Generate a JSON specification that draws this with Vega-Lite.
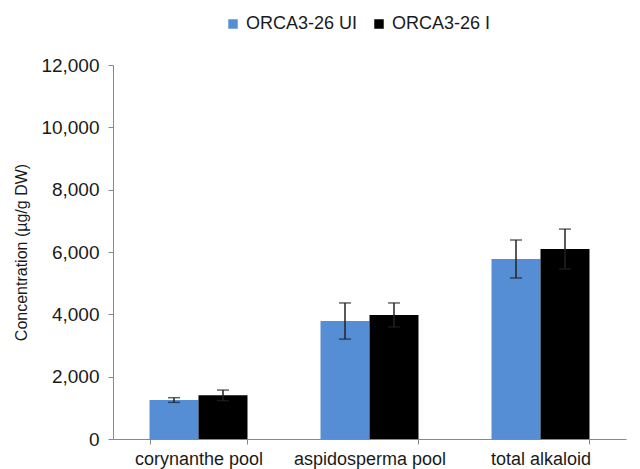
{
  "$schema": "https://vega.github.io/schema/vega-lite/v6.json",
  "width": 513,
  "height": 374,
  "autosize": {"type": "none"},
  "padding": {"left": 113, "top": 65, "right": 14, "bottom": 30},
  "background": "white",
  "config": {
    "view": {"stroke": null},
    "font": "Liberation Sans",
    "axis": {"labelFont": "Liberation Sans", "titleFont": "Liberation Sans", "labelColor": "#1a1a1a", "titleColor": "#1a1a1a"}
  },
  "data": {
    "values": [
      {"category": "corynanthe pool", "series": "ORCA3-26 UI", "value": 1250, "low": 1175, "high": 1325},
      {"category": "corynanthe pool", "series": "ORCA3-26 I", "value": 1400, "low": 1230, "high": 1570},
      {"category": "aspidosperma pool", "series": "ORCA3-26 UI", "value": 3785, "low": 3205, "high": 4365},
      {"category": "aspidosperma pool", "series": "ORCA3-26 I", "value": 3980, "low": 3595, "high": 4365},
      {"category": "total alkaloid", "series": "ORCA3-26 UI", "value": 5775, "low": 5165, "high": 6385},
      {"category": "total alkaloid", "series": "ORCA3-26 I", "value": 6095, "low": 5455, "high": 6735}
    ]
  },
  "encoding": {
    "x": {
      "field": "category", "type": "nominal",
      "sort": ["corynanthe pool", "aspidosperma pool", "total alkaloid"],
      "scale": {"paddingInner": 0.427, "paddingOuter": 0.2135},
      "axis": {
        "title": null, "labelAngle": 0, "labelFontSize": 18, "labelPadding": 6,
        "domainColor": "#888888", "tickColor": "#888888", "tickSize": 5,
        "tickBand": "extent", "labelColor": "#1a1a1a"
      }
    },
    "xOffset": {
      "field": "series", "type": "nominal",
      "sort": ["ORCA3-26 UI", "ORCA3-26 I"],
      "scale": {"paddingInner": 0, "paddingOuter": 0}
    }
  },
  "layer": [
    {
      "mark": {"type": "bar"},
      "encoding": {
        "y": {
          "field": "value", "type": "quantitative",
          "scale": {"domain": [0, 12000], "nice": false},
          "axis": {
            "title": "Concentration (µg/g DW)", "titleFontSize": 16, "titleFontWeight": "normal",
            "titlePadding": 11,
            "values": [0, 2000, 4000, 6000, 8000, 10000, 12000], "format": ",d",
            "labelFontSize": 19, "labelPadding": 9, "grid": false,
            "domainColor": "#888888", "tickColor": "#888888", "tickSize": 5
          }
        },
        "color": {
          "field": "series", "type": "nominal",
          "sort": ["ORCA3-26 UI", "ORCA3-26 I"],
          "scale": {"domain": ["ORCA3-26 UI", "ORCA3-26 I"], "range": ["#558ED5", "#000000"]},
          "legend": {
            "title": null, "orient": "none", "direction": "horizontal",
            "legendX": 111, "legendY": -50,
            "symbolType": "square", "symbolSize": 90, "symbolStrokeWidth": 0,
            "labelFontSize": 18, "labelOffset": 4, "columnPadding": 12,
            "labelColor": "#1a1a1a"
          }
        }
      }
    },
    {
      "mark": {"type": "rule", "color": "#222222", "strokeWidth": 1.5},
      "encoding": {
        "y": {"field": "low", "type": "quantitative"},
        "y2": {"field": "high"}
      }
    },
    {
      "mark": {"type": "tick", "color": "#222222", "thickness": 1.5, "size": 12},
      "encoding": {
        "y": {"field": "low", "type": "quantitative"}
      }
    },
    {
      "mark": {"type": "tick", "color": "#222222", "thickness": 1.5, "size": 12},
      "encoding": {
        "y": {"field": "high", "type": "quantitative"}
      }
    }
  ]
}
